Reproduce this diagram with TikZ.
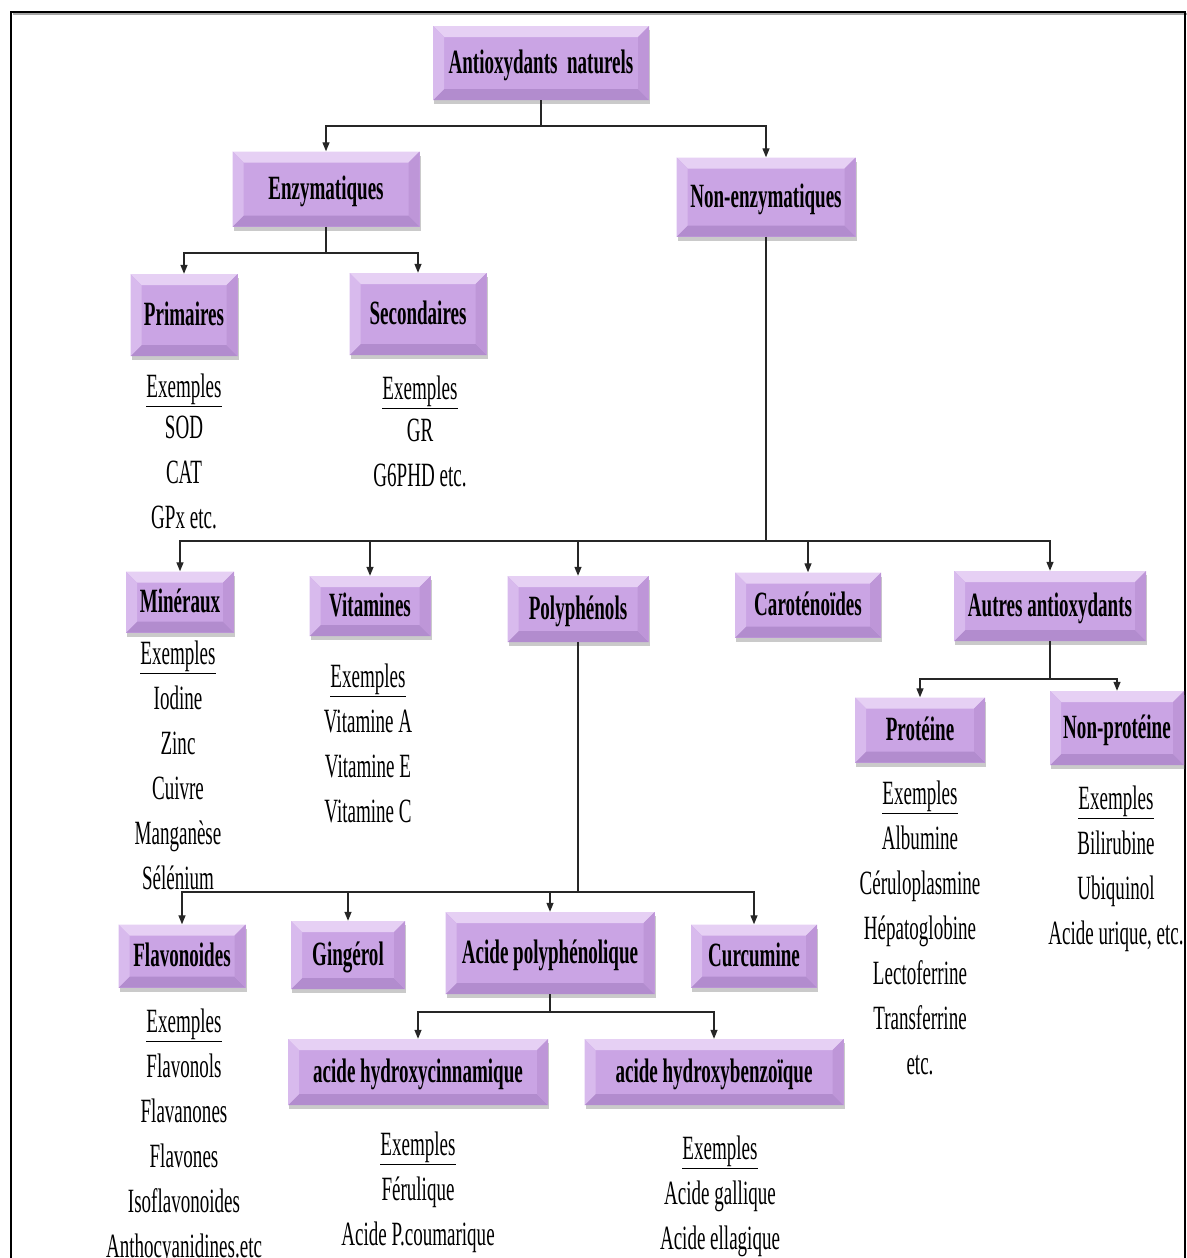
\documentclass[tikz,border=0pt]{standalone}
\usepackage{fontspec}
\setmainfont{Liberation Serif}[FakeStretch=0.56]
\usetikzlibrary{arrows.meta,shadows}
\definecolor{bvmid}{RGB}{202,164,228}
\definecolor{bvtop}{RGB}{230,208,244}
\definecolor{bvleft}{RGB}{216,186,237}
\definecolor{bvright}{RGB}{190,150,216}
\definecolor{bvbot}{RGB}{178,140,206}
\newcommand\bevelpic{%
 \fill[bvtop] (path picture bounding box.north west) -- (path picture bounding box.north east)
   -- ([xshift=-11pt,yshift=-11pt]path picture bounding box.north east)
   -- ([xshift=11pt,yshift=-11pt]path picture bounding box.north west) -- cycle;
 \fill[bvbot] (path picture bounding box.south west) -- (path picture bounding box.south east)
   -- ([xshift=-11pt,yshift=11pt]path picture bounding box.south east)
   -- ([xshift=11pt,yshift=11pt]path picture bounding box.south west) -- cycle;
 \fill[bvleft] (path picture bounding box.north west) -- (path picture bounding box.south west)
   -- ([xshift=11pt,yshift=11pt]path picture bounding box.south west)
   -- ([xshift=11pt,yshift=-11pt]path picture bounding box.north west) -- cycle;
 \fill[bvright] (path picture bounding box.north east) -- (path picture bounding box.south east)
   -- ([xshift=-11pt,yshift=11pt]path picture bounding box.south east)
   -- ([xshift=-11pt,yshift=-11pt]path picture bounding box.north east) -- cycle;
}
\tikzset{
 pbox/.style={fill=bvmid, inner sep=0pt, font=\fontsize{34}{40}\selectfont\bfseries,
   text height=22pt, text depth=2pt,
   path picture={\bevelpic},
   drop shadow={shadow xshift=1pt, shadow yshift=-4pt, opacity=0.35, fill=black!60}},
 exlist/.style={align=center, anchor=north, inner sep=0pt, font=\fontsize{34}{45}\selectfont},
 conn/.style={line width=1.3pt, black!85},
 arr/.style={conn, -{Triangle[length=9pt,width=7pt]}}
}
\begin{document}
\begin{tikzpicture}[x=1pt,y=-1pt]
\useasboundingbox (0,0) rectangle (1186,1258);
\draw[line width=2pt, black!35] (13,14) -- (1187,14);
\draw[line width=2pt] (11,1262) -- (11,12) -- (1185,12) -- (1185,1262);

% boxes
\node[pbox, minimum width=216pt, minimum height=74pt] (root) at (541,63) {Antioxydants~~naturels};
\node[pbox, minimum width=187pt, minimum height=75pt] (enz) at (326,189) {Enzymatiques};
\node[pbox, minimum width=179pt, minimum height=79pt] (nonenz) at (766,197) {Non-enzymatiques};
\node[pbox, minimum width=107pt, minimum height=82pt] (prim) at (184,315) {Primaires};
\node[pbox, minimum width=137pt, minimum height=82pt] (sec) at (418,314) {Secondaires};
\node[pbox, minimum width=108pt, minimum height=61pt] (min) at (180,602) {Minéraux};
\node[pbox, minimum width=121pt, minimum height=60pt] (vit) at (370,606) {Vitamines};
\node[pbox, minimum width=141pt, minimum height=66pt] (poly) at (578,609) {Polyphénols};
\node[pbox, minimum width=146pt, minimum height=65pt] (caro) at (808,605) {Caroténoïdes};
\node[pbox, minimum width=192pt, minimum height=70pt] (autres) at (1050,606) {Autres antioxydants};
\node[pbox, minimum width=130pt, minimum height=65pt] (prot) at (920,730) {Protéine};
\node[pbox, minimum width=134pt, minimum height=74pt] (nonprot) at (1117,728) {Non-protéine};
\node[pbox, minimum width=127pt, minimum height=63pt] (flav) at (182,956) {Flavonoides};
\node[pbox, minimum width=114pt, minimum height=68pt] (ging) at (348,955) {Gingérol};
\node[pbox, minimum width=209pt, minimum height=82pt] (acpoly) at (550,953) {Acide polyphénolique};
\node[pbox, minimum width=126pt, minimum height=63pt] (curc) at (754,956) {Curcumine};
\node[pbox, minimum width=260pt, minimum height=66pt] (hcin) at (418,1072) {acide hydroxycinnamique};
\node[pbox, minimum width=259pt, minimum height=66pt] (hben) at (714,1072) {acide hydroxybenzoïque};

% connectors
\draw[conn] (root.south) -- (root.south |- 0,126) coordinate (j1);
\draw[arr] (j1) -| (enz.north);
\draw[arr] (j1) -| (nonenz.north);

\draw[conn] (enz.south) -- (enz.south |- 0,253) coordinate (j2);
\draw[arr] (j2) -| (prim.north);
\draw[arr] (j2) -| (sec.north);

\draw[conn] (nonenz.south) -- (nonenz.south |- 0,541) coordinate (j3);
\draw[arr] (j3) -| (min.north);
\draw[arr] (j3) -| (vit.north);
\draw[arr] (j3) -| (poly.north);
\draw[arr] (j3) -| (caro.north);
\draw[arr] (j3) -| (autres.north);

\draw[conn] (autres.south) -- (autres.south |- 0,679) coordinate (j4);
\draw[arr] (j4) -| (prot.north);
\draw[arr] (j4) -| (nonprot.north);

\draw[conn] (poly.south) -- (poly.south |- 0,892) coordinate (j5);
\draw[arr] (j5) -| (flav.north);
\draw[arr] (j5) -| (ging.north);
\draw[arr] (j5) -| (acpoly.north);
\draw[arr] (j5) -| (curc.north);

\draw[conn] (acpoly.south) -- (acpoly.south |- 0,1012) coordinate (j6);
\draw[arr] (j6) -| (hcin.north);
\draw[arr] (j6) -| (hben.north);

% example lists
\node[exlist] (lprim) at (184,374) {\underline{Exemples}\\[-4pt]SOD\\CAT\\GPx etc.};
\node[exlist] (lsec) at (420,376) {\underline{Exemples}\\[-3pt]GR\\G6PHD etc.};
\node[exlist] (lmin) at (178,641) {\underline{Exemples}\\Iodine\\Zinc\\Cuivre\\Manganèse\\Sélénium};
\node[exlist] (lvit) at (368,664) {\underline{Exemples}\\Vitamine A\\Vitamine E\\Vitamine C};
\node[exlist] (lprot) at (920,781) {\underline{Exemples}\\Albumine\\Céruloplasmine\\Hépatoglobine\\Lectoferrine\\Transferrine\\etc.};
\node[exlist] (lnonprot) at (1116,786) {\underline{Exemples}\\Bilirubine\\Ubiquinol\\Acide urique, etc.};
\node[exlist] (lflav) at (184,1009) {\underline{Exemples}\\Flavonols\\Flavanones\\Flavones\\Isoflavonoides\\Anthocyanidines.etc};
\node[exlist] (lhcin) at (418,1132) {\underline{Exemples}\\Férulique\\Acide P.coumarique};
\node[exlist] (lhben) at (720,1136) {\underline{Exemples}\\Acide gallique\\Acide ellagique};
\end{tikzpicture}
\end{document}
